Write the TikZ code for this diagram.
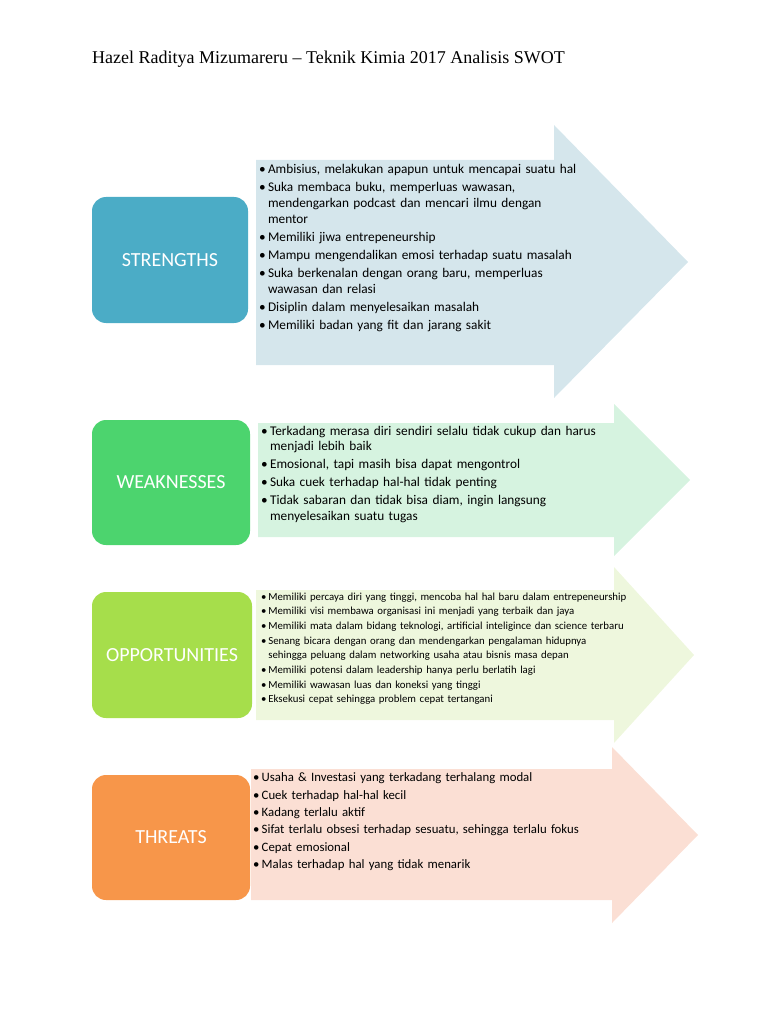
\documentclass[tikz,border=0pt]{standalone}
\usepackage{fontspec}
\setmainfont{Carlito}
\newfontfamily\titlefont{Liberation Serif}
\usetikzlibrary{positioning}

\definecolor{strbox}{HTML}{4BACC6}
\definecolor{strarr}{HTML}{D5E6EC}
\definecolor{weabox}{HTML}{4CD46E}
\definecolor{weaarr}{HTML}{D6F3E0}
\definecolor{oppbox}{HTML}{A6DE4B}
\definecolor{opparr}{HTML}{EEF7DD}
\definecolor{thrbox}{HTML}{F7964A}
\definecolor{thrarr}{HTML}{FBDFD4}

% bullet item with hanging indent
\newcommand{\itm}{\par\settowidth{\dimen0}{\textbullet\,}\hangindent=\dimen0\hangafter=1\noindent\textbullet\,}

\begin{document}
\begin{tikzpicture}[x=1pt,y=-1pt,
swotbox/.style={rounded corners=14pt,inner sep=0pt,text=white,
  font=\fontsize{20}{24}\selectfont},
swotlist/.style={anchor=north west,inner sep=0pt,text width=440pt,
  align=left,text=black}]
\useasboundingbox (0,0) rectangle (768,1024);

\node[anchor=base west,inner sep=0pt,font=\titlefont\fontsize{18}{22}\selectfont] (title) at (92,64)
  {Hazel Raditya Mizumareru – Teknik Kimia 2017 Analisis SWOT};

% arrows
\fill[strarr] (256,160)--(554,160)--(554,125)--(688,262)--(554,398)--(554,365)--(256,365)--cycle;
\fill[weaarr] (258,423)--(614,423)--(614,404)--(690,480)--(614,556)--(614,537)--(258,537)--cycle;
\fill[opparr] (256,590)--(614,590)--(614,567)--(694,655)--(614,743)--(614,720)--(256,720)--cycle;
\fill[thrarr] (251,769)--(612,769)--(612,747)--(698,835)--(612,923)--(612,900)--(251,900)--cycle;

% boxes
\node[swotbox,fill=strbox,minimum width=156pt,minimum height=126pt] (S) at (170,260) {STRENGTHS};
\node[swotbox,fill=weabox,minimum width=158pt,minimum height=125pt] (W) at (171,482.5) {WEAKNESSES};
\node[swotbox,fill=oppbox,minimum width=160pt,minimum height=126pt] (O) at (172,655) {OPPORTUNITIES};
\node[swotbox,fill=thrbox,minimum width=158pt,minimum height=125pt] (T) at (171,837.5) {THREATS};

% lists
\node[swotlist,font=\fontsize{13.3}{16}\selectfont] (Slist) at (259,155) {\setlength{\parskip}{2pt}%
\itm Ambisius, melakukan apapun untuk mencapai suatu hal
\itm Suka membaca buku, memperluas wawasan,\newline mendengarkan podcast dan mencari ilmu dengan\newline mentor
\itm Memiliki jiwa entrepeneurship
\itm Mampu mengendalikan emosi terhadap suatu masalah
\itm Suka berkenalan dengan orang baru, memperluas\newline wawasan dan relasi
\itm Disiplin dalam menyelesaikan masalah
\itm Memiliki badan yang fit dan jarang sakit\par};

\node[swotlist,font=\fontsize{13.3}{15.5}\selectfont] (Wlist) at (261,417) {\setlength{\parskip}{2.5pt}%
\itm Terkadang merasa diri sendiri selalu tidak cukup dan harus\newline menjadi lebih baik
\itm Emosional, tapi masih bisa dapat mengontrol
\itm Suka cuek terhadap hal-hal tidak penting
\itm Tidak sabaran dan tidak bisa diam, ingin langsung\newline menyelesaikan suatu tugas\par};

\node[swotlist,font=\fontsize{10.8}{14}\selectfont] (Olist) at (261,585) {\setlength{\parskip}{0.8pt}%
\itm Memiliki percaya diri yang tinggi, mencoba hal hal baru dalam entrepeneurship
\itm Memiliki visi membawa organisasi ini menjadi yang terbaik dan jaya
\itm Memiliki mata dalam bidang teknologi, artificial inteligince dan science terbaru
\itm Senang bicara dengan orang dan mendengarkan pengalaman hidupnya\newline sehingga peluang dalam networking usaha atau bisnis masa depan
\itm Memiliki potensi dalam leadership hanya perlu berlatih lagi
\itm Memiliki wawasan luas dan koneksi yang tinggi
\itm Eksekusi cepat sehingga problem cepat tertangani\par};

\node[swotlist,font=\fontsize{12.8}{15}\selectfont] (Tlist) at (253,764) {\setlength{\parskip}{2.4pt}%
\itm Usaha \& Investasi yang terkadang terhalang modal
\itm Cuek terhadap hal-hal kecil
\itm Kadang terlalu aktif
\itm Sifat terlalu obsesi terhadap sesuatu, sehingga terlalu fokus
\itm Cepat emosional
\itm Malas terhadap hal yang tidak menarik\par};
\end{tikzpicture}
\end{document}
